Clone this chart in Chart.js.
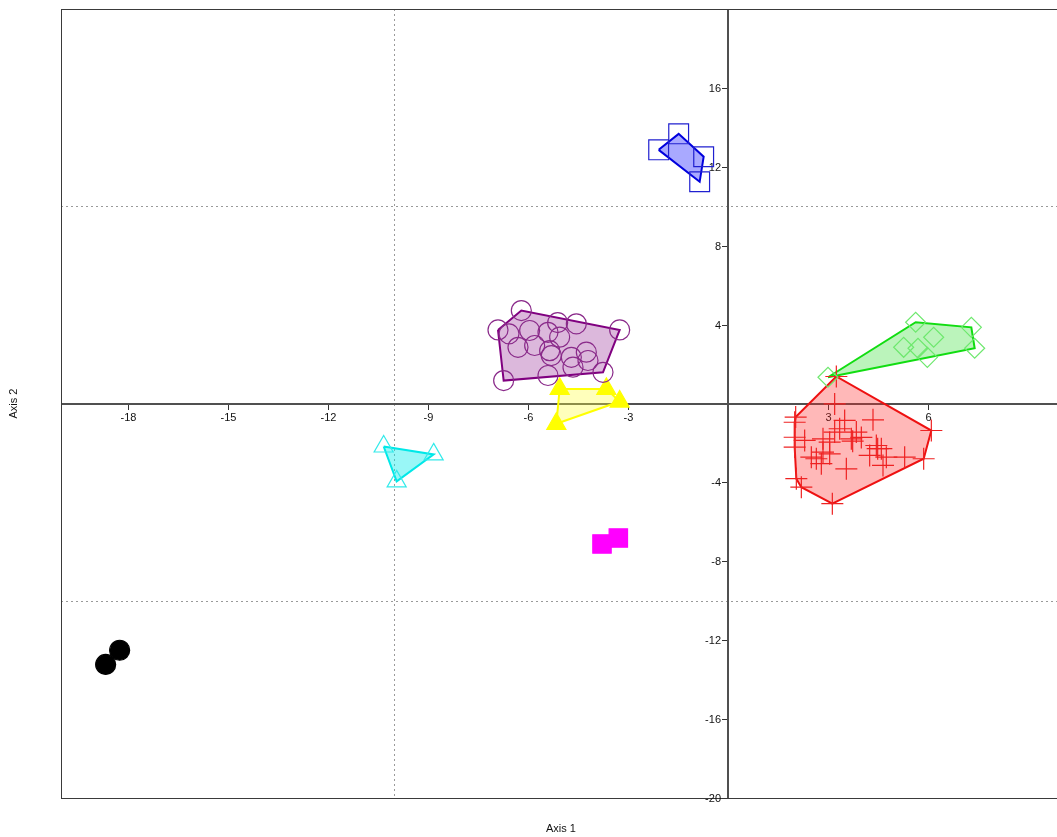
<!DOCTYPE html>
<html><head><meta charset="utf-8">
<script src="https://cdn.jsdelivr.net/npm/chart.js@4"></script>
<style>html,body{margin:0;padding:0;overflow:hidden;background:#fff}#wrap{width:1061px;height:837px;position:relative}</style>
</head><body><div id="wrap"><canvas id="c"></canvas></div>
<script>
// ---- data ----
const purpleX = [-6.19,-6.89,-6.56,-6.29,-5.94,-5.79,-5.39,-5.04,-5.10,-4.54,-3.24,-5.34,-5.29,-4.69,-4.24,-4.19,-4.64,-3.74,-5.39,-6.72];
const purpleY = [4.71,3.73,3.53,2.85,3.70,2.94,3.61,3.36,4.10,4.04,3.73,2.68,2.43,2.34,2.60,2.18,1.84,1.58,1.42,1.16];
const blueX = [-2.07,-1.47,-0.72,-0.84];
const blueY = [12.86,13.67,12.51,11.24];
const yellowX = [-5.04,-3.64,-3.24,-5.14];
const yellowY = [0.74,0.74,0.10,-1.03];
const cyanX = [-10.32,-8.82,-9.93];
const cyanY = [-2.18,-2.58,-3.95];
const magentaX = [-3.77,-3.28];
const magentaY = [-7.12,-6.82];
const blackX = [-18.66,-18.24];
const blackY = [-13.23,-12.51];
const greenX = [3.01,5.64,7.31,7.41,5.28,5.71,6.18,5.99];
const greenY = [1.33,4.12,3.86,2.80,2.85,2.80,3.36,2.34];
const redX = [3.26,3.21,2.04,2.01,4.36,6.11,3.36,3.21,3.86,3.71,3.75,2.86,2.31,3.06,4.46,4.50,4.61,2.86,2.51,2.66,3.06,4.26,4.76,5.31,5.88,2.81,3.56,4.66,2.06,2.21,3.14,2.01,2.01,3.51,4.01];
const redY = [1.37,-0.02,-0.69,-0.95,-0.83,-1.37,-1.28,-1.45,-1.45,-1.79,-1.91,-1.79,-1.87,-1.96,-2.13,-2.29,-2.29,-2.47,-2.72,-2.80,-2.55,-2.63,-2.72,-2.72,-2.80,-3.05,-3.31,-3.14,-3.81,-4.24,-5.08,-1.71,-2.21,-0.86,-1.72];

const xTickLabels = [-18,-15,-12,-9,-6,-3,3,6];
const yTickLabels = [16,12,8,4,-4,-8,-12,-16,-20];
const gridValues = [-10,10];
const xTitle = 'Axis 1';
const yTitle = 'Axis 2';

// ---- helpers ----
function pts(xs, ys){ return xs.map((v,i)=>({x:v,y:ys[i]})); }
function hull(p){
  const s = p.slice().sort((a,b)=>a.x-b.x||a.y-b.y);
  const cr=(o,a,b)=>(a.x-o.x)*(b.y-o.y)-(a.y-o.y)*(b.x-o.x);
  const lo=[],up=[];
  for(const q of s){while(lo.length>=2&&cr(lo[lo.length-2],lo[lo.length-1],q)<=0)lo.pop();lo.push(q);}
  for(let i=s.length-1;i>=0;i--){const q=s[i];while(up.length>=2&&cr(up[up.length-2],up[up.length-1],q)<=0)up.pop();up.push(q);}
  up.pop();lo.pop();
  const h=lo.concat(up); h.push(h[0]); return h;
}

const groups = [
  {x:purpleX,y:purpleY,line:'#800080',fill:'rgba(128,0,128,0.28)',style:'circle',r:10,pb:'rgba(0,0,0,0)',pc:'#8a2a8a',hull:true},
  {x:blueX,y:blueY,line:'#0000dd',fill:'rgba(40,40,255,0.4)',style:'rect',r:14,pb:'rgba(0,0,0,0)',pc:'#2020d0',hull:true},
  {x:yellowX,y:yellowY,line:'#ffff00',fill:'rgba(255,255,60,0.35)',style:'triangle',r:11,pb:'#ffff00',pc:'#ffff00',hull:true},
  {x:cyanX,y:cyanY,line:'#00e8e8',fill:'rgba(0,235,235,0.4)',style:'triangle',r:11,pb:'rgba(0,0,0,0)',pc:'#33eaea',hull:true},
  {x:magentaX,y:magentaY,line:'#ff00ff',fill:'rgba(255,0,255,0.3)',style:'rect',r:13,pb:'#ff00ff',pc:'#ff00ff',hull:false},
  {x:blackX,y:blackY,line:'#000',fill:'rgba(0,0,0,0.3)',style:'circle',r:10,pb:'#000000',pc:'#000000',hull:false},
  {x:greenX,y:greenY,line:'#11dd11',fill:'rgba(30,220,30,0.3)',style:'rectRot',r:10,pb:'rgba(0,0,0,0)',pc:'#6ee86e',hull:true},
  {x:redX,y:redY,line:'#ee1111',fill:'rgba(255,40,40,0.33)',style:'cross',r:11,pb:'rgba(0,0,0,0)',pc:'#ee2222',hull:true}
];

const datasets = [];
groups.forEach(g=>{
  const p = pts(g.x,g.y);
  datasets.push({type:'scatter',data:p,pointStyle:g.style,pointRadius:g.r,pointHoverRadius:g.r,
    pointBackgroundColor:g.pb,pointBorderColor:g.pc,pointBorderWidth:1.2,showLine:false,order:1});
  if(g.hull){
    datasets.push({type:'scatter',data:hull(p),showLine:true,fill:'shape',backgroundColor:g.fill,
      borderColor:g.line,borderWidth:2,pointRadius:0,pointHoverRadius:0,tension:0,order:2});
  }
});

const axesPlugin = {
  id:'pastAxes',
  beforeDatasetsDraw(chart){
    const {ctx, chartArea:a, scales:{x,y}} = chart;
    const ln=(x1,y1,x2,y2)=>{ctx.beginPath();ctx.moveTo(x1,y1);ctx.lineTo(x2,y2);ctx.stroke();};
    ctx.save();
    ctx.strokeStyle='#9a9a9a'; ctx.lineWidth=1; ctx.setLineDash([2,3]);
    gridValues.forEach(v=>{
      const px=Math.round(x.getPixelForValue(v))+0.5; ln(px,a.top,px,a.bottom);
      const py=Math.round(y.getPixelForValue(v))+0.5; ln(a.left,py,a.right,py);
    });
    ctx.setLineDash([]);
    const x0=Math.round(x.getPixelForValue(0)), y0=Math.round(y.getPixelForValue(0));
    ctx.strokeStyle='#505050'; ctx.lineWidth=2;
    ln(x0,a.top,x0,a.bottom); ln(a.left,y0,a.right,y0);
    ctx.strokeStyle='#3a3a3a'; ctx.lineWidth=1;
    ctx.strokeRect(a.left+0.5,a.top+0.5,a.right-a.left,a.bottom-a.top);
    // ticks
    ctx.fillStyle='#111'; ctx.font='11px "Liberation Sans", Arial, sans-serif';
    ctx.strokeStyle='#333'; ctx.lineWidth=1;
    ctx.textAlign='center'; ctx.textBaseline='middle';
    xTickLabels.forEach(v=>{
      const px=Math.round(x.getPixelForValue(v))+0.5;
      ln(px,y0+1,px,y0+6);
      ctx.fillText(String(v),px,y0+14);
    });
    ctx.textAlign='right';
    yTickLabels.forEach(v=>{
      const py=Math.round(y.getPixelForValue(v))+0.5;
      ln(x0-6,py,x0-1,py);
      ctx.fillText(String(v),x0-7,py);
    });
    // titles
    ctx.textAlign='center';
    ctx.fillText(xTitle,(a.left+a.right)/2,829);
    ctx.save(); ctx.translate(14,(a.top+a.bottom)/2); ctx.rotate(-Math.PI/2);
    ctx.fillText(yTitle,0,0); ctx.restore();
    ctx.restore();
  }
};

new Chart(document.getElementById('c'),{
  type:'scatter',
  data:{datasets},
  options:{
    responsive:true,maintainAspectRatio:false,animation:false,
    layout:{autoPadding:false,padding:{left:61,top:9,right:0,bottom:39}},
    plugins:{legend:{display:false},tooltip:{enabled:false}},
    scales:{
      x:{type:'linear',display:false,min:-20,max:10},
      y:{type:'linear',display:false,min:-20,max:20}
    }
  },
  plugins:[axesPlugin]
});
</script></body></html>
